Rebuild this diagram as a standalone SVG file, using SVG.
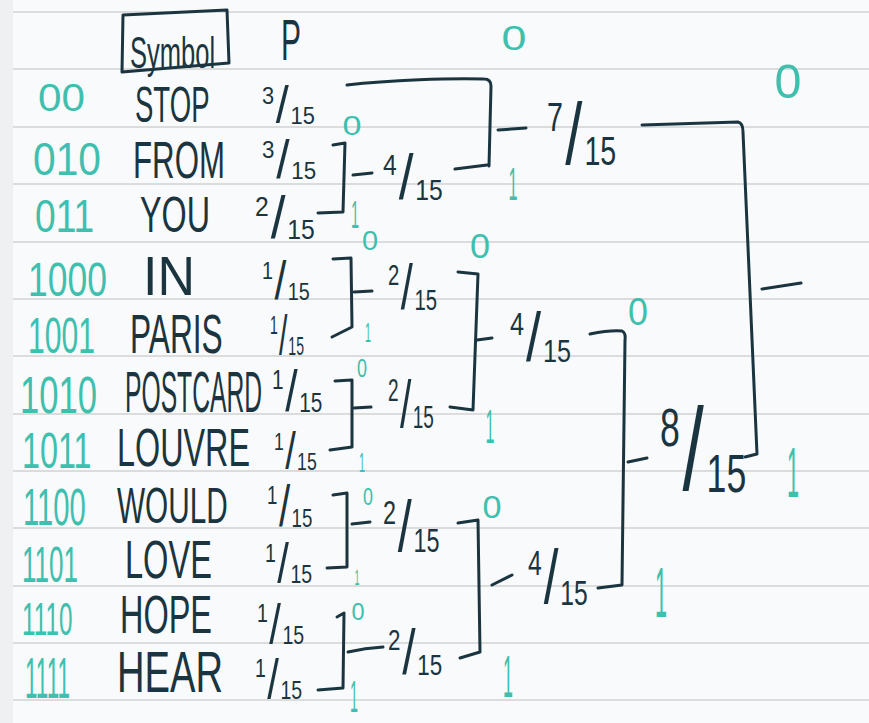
<svg xmlns="http://www.w3.org/2000/svg" width="869" height="723" viewBox="0 0 869 723">
<defs>
<style>
.ink{fill:#1b3540;font-family:"Liberation Sans",Arial,sans-serif;}
.bit{fill:#3fbfae;font-family:"Liberation Sans",Arial,sans-serif;text-anchor:middle;}
.code{fill:#3fbfae;font-family:"Liberation Sans",Arial,sans-serif;}
.rule{stroke:#dcdcdc;stroke-width:2;}
.con path{fill:none;stroke:#1b3540;stroke-width:3;stroke-linecap:round;stroke-linejoin:round;}
.s{font-size:26px;}
.l{font-size:56px;}
</style>
</defs>
<rect x="0" y="0" width="869" height="723" fill="#f9fafb"/>
<rect x="0" y="0" width="13" height="723" fill="#eef0f1"/>
<g id="paper-lines" class="rule">
<line x1="13" y1="12" x2="869" y2="12"/><line x1="13" y1="69" x2="869" y2="69"/><line x1="13" y1="127" x2="869" y2="127"/><line x1="13" y1="184" x2="869" y2="184"/><line x1="13" y1="242" x2="869" y2="242"/><line x1="13" y1="299" x2="869" y2="299"/><line x1="13" y1="356" x2="869" y2="356"/><line x1="13" y1="414" x2="869" y2="414"/><line x1="13" y1="471" x2="869" y2="471"/><line x1="13" y1="528" x2="869" y2="528"/><line x1="13" y1="586" x2="869" y2="586"/><line x1="13" y1="643" x2="869" y2="643"/><line x1="13" y1="700" x2="869" y2="700"/>
</g>

<g id="header">
<path d="M123,15 L227,10 L229,63 L122,72 Z" fill="none" stroke="#1b3540" stroke-width="3" stroke-linejoin="round"/>
<text class="ink" transform="translate(130,68) scale(0.58,1)" font-size="44">Symbol</text>
<text class="ink" transform="translate(281,60) scale(0.517,1)" font-size="58">P</text>
</g>

<g id="connectors" class="con">
<path d="M347,85 C390,80 450,78 484,79 Q491,79 491,86 L489,166"/>
<path d="M455,169 L487,165"/>
<path d="M498,130 L526,128"/>
<path d="M333,145 L345,143 L343,212 L318,213"/>
<path d="M353,175 L372,173"/>
<path d="M333,259 L351,258 L352,327 L332,337"/>
<path d="M354,292 L372,291"/>
<path d="M335,381 L352,380 L352,447 L330,450"/>
<path d="M354,408 L371,407"/>
<path d="M333,495 L347,493 L347,567 L327,568"/>
<path d="M352,524 L370,522"/>
<path d="M337,617 L344,613 L343,688 L318,690"/>
<path d="M348,652 Q365,648 383,647"/>
<path d="M458,272 L478,274 L473,410 L450,407"/>
<path d="M477,340 L492,338"/>
<path d="M458,523 L478,520 L480,652 L460,658"/>
<path d="M492,585 L512,575"/>
<path d="M590,334 Q610,330 622,331 Q626,333 625,340 L622,585 L598,588"/>
<path d="M628,462 L647,458"/>
<path d="M642,125 L738,122 Q743,123 743,132 L757,454 L745,457"/>
<path d="M762,289 L801,283"/>
</g>

<g id="row-stop">
<text class="code" transform="translate(38,111) scale(1.083,1)" font-size="39">00</text>
<text class="ink" transform="translate(135,122) scale(0.551,1)" font-size="50">STOP</text>
<text class="ink" transform="translate(262,84) scale(0.84,0.91)"><tspan class="s" x="0" y="22">3</tspan><tspan class="l" x="16.5" y="43">/</tspan><tspan class="s" x="34" y="44">15</tspan></text>
</g>
<g id="row-from">
<text class="code" transform="translate(33,175) scale(0.886,1)" font-size="46">010</text>
<text class="ink" transform="translate(133,178) scale(0.601,1)" font-size="52">FROM</text>
<text class="ink" transform="translate(262,137) scale(0.86,0.95)"><tspan class="s" x="0" y="22">3</tspan><tspan class="l" x="16.5" y="43">/</tspan><tspan class="s" x="34" y="44">15</tspan></text>
</g>
<g id="row-you">
<text class="code" transform="translate(35,232) scale(0.808,1)" font-size="46">011</text>
<text class="ink" transform="translate(140,232) scale(0.646,1)" font-size="50">YOU</text>
<text class="ink" transform="translate(255,193) scale(0.95,1.05)"><tspan class="s" x="0" y="22">2</tspan><tspan class="l" x="16.5" y="43">/</tspan><tspan class="s" x="34" y="44">15</tspan></text>
</g>
<g id="row-in">
<text class="code" transform="translate(28,296) scale(0.74,1)" font-size="48">1000</text>
<text class="ink" transform="translate(143,295) scale(0.945,1)" font-size="55">IN</text>
<text class="ink" transform="translate(262,258) scale(0.76,0.95)"><tspan class="s" x="0" y="22">1</tspan><tspan class="l" x="16.5" y="43">/</tspan><tspan class="s" x="34" y="44">15</tspan></text>
</g>
<g id="row-paris">
<text class="code" transform="translate(28,353) scale(0.603,1)" font-size="50">1001</text>
<text class="ink" transform="translate(130,353) scale(0.576,1)" font-size="55">PARIS</text>
<text class="ink" transform="translate(270,312) scale(0.54,0.98)"><tspan class="s" x="0" y="22">1</tspan><tspan class="l" x="16.5" y="43">/</tspan><tspan class="s" x="34" y="44">15</tspan></text>
</g>
<g id="row-postcard">
<text class="code" transform="translate(20,413) scale(0.666,1)" font-size="52">1010</text>
<text class="ink" transform="translate(125,412) scale(0.433,1)" font-size="57">POSTCARD</text>
<text class="ink" transform="translate(272,366) scale(0.8,1.04)"><tspan class="s" x="0" y="22">1</tspan><tspan class="l" x="16.5" y="43">/</tspan><tspan class="s" x="34" y="44">15</tspan></text>
</g>
<g id="row-louvre">
<text class="code" transform="translate(22,468) scale(0.647,1)" font-size="50">1011</text>
<text class="ink" transform="translate(117,466) scale(0.599,1)" font-size="54">LOUVRE</text>
<text class="ink" transform="translate(274,430) scale(0.68,0.91)"><tspan class="s" x="0" y="22">1</tspan><tspan class="l" x="16.5" y="43">/</tspan><tspan class="s" x="34" y="44">15</tspan></text>
</g>
<g id="row-would">
<text class="code" transform="translate(23,525) scale(0.562,1)" font-size="52">1100</text>
<text class="ink" transform="translate(117,523) scale(0.596,1)" font-size="50">WOULD</text>
<text class="ink" transform="translate(267,482) scale(0.72,1.02)"><tspan class="s" x="0" y="22">1</tspan><tspan class="l" x="16.5" y="43">/</tspan><tspan class="s" x="34" y="44">15</tspan></text>
</g>
<g id="row-love">
<text class="code" transform="translate(22,582) scale(0.522,1)" font-size="50">1101</text>
<text class="ink" transform="translate(125,578) scale(0.615,1)" font-size="53">LOVE</text>
<text class="ink" transform="translate(265,540) scale(0.75,0.98)"><tspan class="s" x="0" y="22">1</tspan><tspan class="l" x="16.5" y="43">/</tspan><tspan class="s" x="34" y="44">15</tspan></text>
</g>
<g id="row-hope">
<text class="code" transform="translate(22,635) scale(0.528,1)" font-size="46">1110</text>
<text class="ink" transform="translate(120,633) scale(0.613,1)" font-size="53">HOPE</text>
<text class="ink" transform="translate(257,600) scale(0.75,1.0)"><tspan class="s" x="0" y="22">1</tspan><tspan class="l" x="16.5" y="43">/</tspan><tspan class="s" x="34" y="44">15</tspan></text>
</g>
<g id="row-hear">
<text class="code" transform="translate(25,698) scale(0.388,1)" font-size="58">1111</text>
<text class="ink" transform="translate(117,692) scale(0.67,1)" font-size="57">HEAR</text>
<text class="ink" transform="translate(255,655) scale(0.75,1.0)"><tspan class="s" x="0" y="22">1</tspan><tspan class="l" x="16.5" y="43">/</tspan><tspan class="s" x="34" y="44">15</tspan></text>
</g>

<g id="node-from-you">
<text class="ink" transform="translate(383,150) scale(0.95,1.14)"><tspan class="s" x="0" y="22">4</tspan><tspan class="l" x="16.5" y="43">/</tspan><tspan class="s" x="34" y="44">15</tspan></text>
<text class="bit" transform="translate(352,135) scale(1.22,1)" font-size="28">0</text>
<text class="bit" transform="translate(355,228) scale(0.369,1)" font-size="39">1</text>
</g>
<g id="node-seven">
<text class="ink" transform="translate(547,97) scale(1.1,1.55)"><tspan class="s" x="0" y="22">7</tspan><tspan class="l" x="16.5" y="43">/</tspan><tspan class="s" x="34" y="44">15</tspan></text>
<text class="bit" transform="translate(514,50) scale(1.28,1)" font-size="35">0</text>
<text class="bit" transform="translate(513,200) scale(0.352,1)" font-size="46">1</text>
</g>
<g id="node-in-paris">
<text class="ink" transform="translate(388,260) scale(0.78,1.14)"><tspan class="s" x="0" y="22">2</tspan><tspan class="l" x="16.5" y="43">/</tspan><tspan class="s" x="34" y="44">15</tspan></text>
<text class="bit" transform="translate(370,250) scale(1.03,1)" font-size="28">0</text>
<text class="bit" transform="translate(368,342) scale(0.385,1)" font-size="28">1</text>
</g>
<g id="node-postcard-louvre">
<text class="ink" transform="translate(388,375) scale(0.73,1.2)"><tspan class="s" x="0" y="22">2</tspan><tspan class="l" x="16.5" y="43">/</tspan><tspan class="s" x="34" y="44">15</tspan></text>
<text class="bit" transform="translate(362,377) scale(0.69,1)" font-size="26">0</text>
<text class="bit" transform="translate(362,472) scale(0.385,1)" font-size="28">1</text>
</g>
<g id="node-four-upper">
<text class="ink" transform="translate(510,308) scale(0.97,1.23)"><tspan class="s" x="0" y="22">4</tspan><tspan class="l" x="16.5" y="43">/</tspan><tspan class="s" x="34" y="44">15</tspan></text>
<text class="bit" transform="translate(480,258) scale(1.03,1)" font-size="35">0</text>
<text class="bit" transform="translate(490,443) scale(0.33,1)" font-size="49">1</text>
</g>
<g id="node-would-love">
<text class="ink" transform="translate(383,495) scale(0.9,1.3)"><tspan class="s" x="0" y="22">2</tspan><tspan class="l" x="16.5" y="43">/</tspan><tspan class="s" x="34" y="44">15</tspan></text>
<text class="bit" transform="translate(368,505) scale(0.75,1)" font-size="24">0</text>
<text class="bit" transform="translate(357,585) scale(0.41,1)" font-size="22">1</text>
</g>
<g id="node-hope-hear">
<text class="ink" transform="translate(388,625) scale(0.86,1.14)"><tspan class="s" x="0" y="22">2</tspan><tspan class="l" x="16.5" y="43">/</tspan><tspan class="s" x="34" y="44">15</tspan></text>
<text class="bit" transform="translate(358,620) scale(0.98,1)" font-size="24">0</text>
<text class="bit" transform="translate(354,712) scale(0.32,1)" font-size="45">1</text>
</g>
<g id="node-four-lower">
<text class="ink" transform="translate(528,545) scale(0.95,1.36)"><tspan class="s" x="0" y="22">4</tspan><tspan class="l" x="16.5" y="43">/</tspan><tspan class="s" x="34" y="44">15</tspan></text>
<text class="bit" transform="translate(492,518) scale(1.07,1)" font-size="32">0</text>
<text class="bit" transform="translate(508,697) scale(0.305,1)" font-size="59">1</text>
</g>
<g id="node-eight">
<text class="ink" transform="translate(660,400) scale(1.37,2.09)"><tspan class="s" x="0" y="22">8</tspan><tspan class="l" x="16.5" y="43">/</tspan><tspan class="s" x="34" y="44">15</tspan></text>
<text class="bit" transform="translate(638,325) scale(0.92,1)" font-size="39">0</text>
<text class="bit" transform="translate(661,617) scale(0.31,1)" font-size="70">1</text>
</g>
<g id="node-root">
<text class="bit" transform="translate(788,98) scale(0.99,1)" font-size="49">0</text>
<text class="bit" transform="translate(793,497) scale(0.31,1)" font-size="70">1</text>
</g>
</svg>
